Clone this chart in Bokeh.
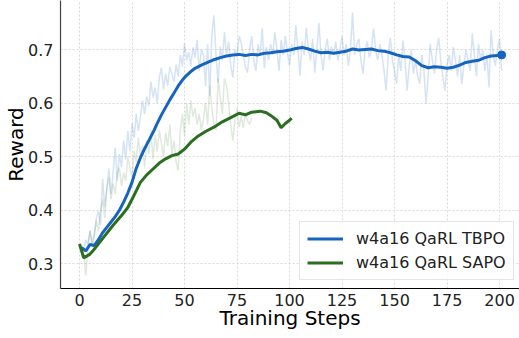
from bokeh.plotting import figure
from bokeh.models import Range1d, Legend, LegendItem, FixedTicker
from bokeh.embed import file_html
from bokeh.resources import INLINE

# ---------------- data ----------------
tbpo_raw = [
    0.330, 0.325, 0.345, 0.336, 0.362, 0.332, 0.350, 0.385, 0.398, 0.372,
    0.459, 0.405, 0.440, 0.478, 0.430, 0.470, 0.517, 0.455, 0.505, 0.480,
    0.530, 0.495, 0.548, 0.510, 0.562, 0.535, 0.580, 0.548, 0.575, 0.605,
    0.580, 0.612, 0.595, 0.640, 0.610, 0.629, 0.600, 0.648, 0.666, 0.625,
    0.655, 0.632, 0.668, 0.655, 0.640, 0.672, 0.650, 0.690, 0.668, 0.711,
    0.680, 0.695, 0.670, 0.704, 0.685, 0.718, 0.660, 0.700, 0.689, 0.632,
    0.710, 0.614, 0.725, 0.764, 0.690, 0.638, 0.705, 0.680, 0.732, 0.690,
    0.715, 0.670, 0.648, 0.700, 0.685, 0.725, 0.713, 0.690, 0.668, 0.657,
    0.700, 0.725, 0.680, 0.660, 0.710, 0.690, 0.740, 0.665, 0.705, 0.680,
    0.710, 0.690, 0.732, 0.700, 0.660, 0.718, 0.690, 0.725, 0.695, 0.670,
    0.710, 0.690, 0.745, 0.700, 0.651, 0.715, 0.690, 0.741, 0.700, 0.680,
    0.720, 0.657, 0.700, 0.750, 0.690, 0.661, 0.700, 0.720, 0.680, 0.705,
    0.690, 0.715, 0.680, 0.700, 0.725, 0.690, 0.710, 0.670, 0.700, 0.769,
    0.690, 0.710, 0.720, 0.680, 0.655, 0.700, 0.715, 0.685, 0.700, 0.739,
    0.700, 0.680, 0.710, 0.690, 0.660, 0.623, 0.690, 0.722, 0.680, 0.660,
    0.636, 0.690, 0.660, 0.717, 0.680, 0.623, 0.670, 0.700, 0.655, 0.680,
    0.650, 0.636, 0.690, 0.660, 0.599, 0.650, 0.711, 0.680, 0.655, 0.700,
    0.722, 0.680, 0.650, 0.623, 0.670, 0.690, 0.660, 0.704, 0.680, 0.650,
    0.690, 0.636, 0.670, 0.700, 0.680, 0.660, 0.730, 0.690, 0.650, 0.710,
    0.680, 0.700, 0.660, 0.690, 0.629, 0.736, 0.690, 0.670, 0.700, 0.720,
    0.661,
]
tbpo_raw_steps = list(range(1, len(tbpo_raw) + 1))

sapo_raw = [
    0.335, 0.320, 0.278, 0.330, 0.362, 0.340, 0.355, 0.380, 0.360, 0.400,
    0.420, 0.385, 0.440, 0.461, 0.420, 0.450, 0.430, 0.470, 0.479, 0.445,
    0.470, 0.455, 0.500, 0.480, 0.460, 0.510, 0.490, 0.536, 0.500, 0.520,
    0.480, 0.530, 0.505, 0.550, 0.495, 0.540, 0.510, 0.549, 0.525, 0.500,
    0.545, 0.520, 0.560, 0.505, 0.530, 0.490, 0.474, 0.550, 0.580, 0.540,
    0.600, 0.560, 0.605, 0.575, 0.590, 0.560, 0.580, 0.549, 0.570, 0.600,
    0.560, 0.633, 0.590, 0.560, 0.549, 0.646, 0.610, 0.580, 0.646, 0.633,
    0.600, 0.560, 0.530, 0.570, 0.590, 0.555, 0.575, 0.554, 0.580, 0.567,
    0.560, 0.573,
]
sapo_raw_steps = list(range(1, len(sapo_raw) + 1))

tbpo_steps = [1, 3, 5, 7, 9, 11, 13, 15, 17, 19, 21, 23, 25, 27, 29, 31, 33, 35,
              37, 39, 41, 43, 45, 47, 49, 51, 53, 55, 58, 61, 64, 67, 70, 73, 76,
              79, 82, 85, 88, 91, 94, 97, 100, 103, 106, 109, 112, 115, 118, 121,
              124, 127, 130, 133, 136, 139, 142, 145, 148, 151, 154, 157, 160,
              163, 166, 169, 172, 175, 178, 181, 184, 187, 190, 193, 196, 199, 201]
tbpo_smooth = [0.330, 0.324, 0.336, 0.334, 0.345, 0.358, 0.368, 0.378, 0.388,
               0.400, 0.415, 0.432, 0.452, 0.478, 0.498, 0.515, 0.530, 0.545,
               0.562, 0.578, 0.592, 0.606, 0.619, 0.632, 0.643, 0.652, 0.659,
               0.665, 0.671, 0.676, 0.681, 0.685, 0.688, 0.690, 0.691, 0.689,
               0.691, 0.690, 0.693, 0.694, 0.696, 0.697, 0.699, 0.702, 0.704,
               0.701, 0.697, 0.694, 0.695, 0.693, 0.695, 0.697, 0.701, 0.699,
               0.700, 0.701, 0.698, 0.697, 0.694, 0.690, 0.687, 0.686, 0.679,
               0.670, 0.666, 0.668, 0.667, 0.665, 0.667, 0.671, 0.676, 0.678,
               0.680, 0.685, 0.688, 0.689, 0.689]

sapo_steps = [0, 2, 5, 7, 9, 12, 16, 20, 23, 26, 29, 32, 35, 38, 41, 44, 47, 50,
              53, 56, 60, 64, 68, 72, 76, 79, 82, 86, 89, 91, 94, 96, 98, 100, 101]
sapo_smooth = [0.337, 0.311, 0.318, 0.327, 0.337, 0.352, 0.372, 0.390, 0.405,
               0.428, 0.452, 0.466, 0.477, 0.488, 0.496, 0.502, 0.505, 0.514,
               0.527, 0.537, 0.547, 0.555, 0.565, 0.573, 0.581, 0.578, 0.583,
               0.585, 0.582, 0.577, 0.568, 0.554, 0.562, 0.568, 0.572]

final_step = [201]
final_reward = [0.690]

x_ticks = [0, 25, 50, 75, 100, 125, 150, 175, 200]
y_ticks = [0.3, 0.4, 0.5, 0.6, 0.7]
labels = ["w4a16 QaRL TBPO", "w4a16 QaRL SAPO"]

BLUE = "#1565c0"
GREEN = "#2a6e1f"
FONT = "DejaVu Sans"

# ---------------- figure ----------------
p = figure(width=519, height=338, output_backend="svg", toolbar_location=None,
           x_range=Range1d(-9.05, 209.5), y_range=Range1d(0.2538, 0.7916),
           min_border_left=60, min_border_bottom=50, min_border_top=0,
           min_border_right=0)
p.outline_line_color = None
p.background_fill_color = "white"

p.line(tbpo_raw_steps, tbpo_raw, color=BLUE, alpha=0.18, line_width=1.5)
p.line(sapo_raw_steps, sapo_raw, color=GREEN, alpha=0.15, line_width=1.5)
r_blue = p.line(tbpo_steps, tbpo_smooth, color=BLUE, line_width=3)
r_green = p.line(sapo_steps, sapo_smooth, color=GREEN, line_width=3)
p.scatter(final_step, final_reward, size=8, color=BLUE)

p.xaxis.ticker = FixedTicker(ticks=x_ticks)
p.yaxis.ticker = FixedTicker(ticks=y_ticks)
p.xgrid.ticker = FixedTicker(ticks=x_ticks)
p.ygrid.ticker = FixedTicker(ticks=y_ticks)
for g in (p.xgrid, p.ygrid):
    g.grid_line_color = "#cfcfcf"
    g.grid_line_dash = "2 2"
    g.grid_line_width = 0.8

for ax in (p.xaxis, p.yaxis):
    ax.major_tick_line_color = None
    ax.minor_tick_line_color = None
    ax.major_tick_out = 0
    ax.major_tick_in = 0
    ax.major_label_text_font = FONT
    ax.major_label_text_font_size = "16px"
    ax.major_label_text_color = "#222222"
    ax.axis_label_text_font = FONT
    ax.axis_label_text_font_size = "20px"
    ax.axis_label_text_font_style = "normal"
    ax.axis_label_text_color = "black"
    ax.axis_line_width = 1.2

p.xaxis.axis_line_color = "black"
p.yaxis.axis_line_color = "#444444"
p.xaxis.axis_label = "Training Steps"
p.yaxis.axis_label = "Reward"
p.xaxis.major_label_standoff = 5
p.yaxis.major_label_standoff = 7
p.xaxis.axis_label_standoff = -3
p.yaxis.axis_label_standoff = -3

legend = Legend(items=[LegendItem(label=labels[0], renderers=[r_blue]),
                       LegendItem(label=labels[1], renderers=[r_green])],
                location=(239, 8))
legend.label_text_font = FONT
legend.label_text_font_size = "16px"
legend.label_text_color = "#222222"
legend.glyph_width = 36
legend.glyph_height = 19
legend.label_height = 19
legend.label_standoff = 13
legend.spacing = 5
legend.padding = 7
legend.margin = 0
legend.border_line_color = "#cccccc"
legend.border_line_width = 1
legend.background_fill_alpha = 0.85
p.add_layout(legend, "center")

open("out.html", "w").write(file_html(p, INLINE))
